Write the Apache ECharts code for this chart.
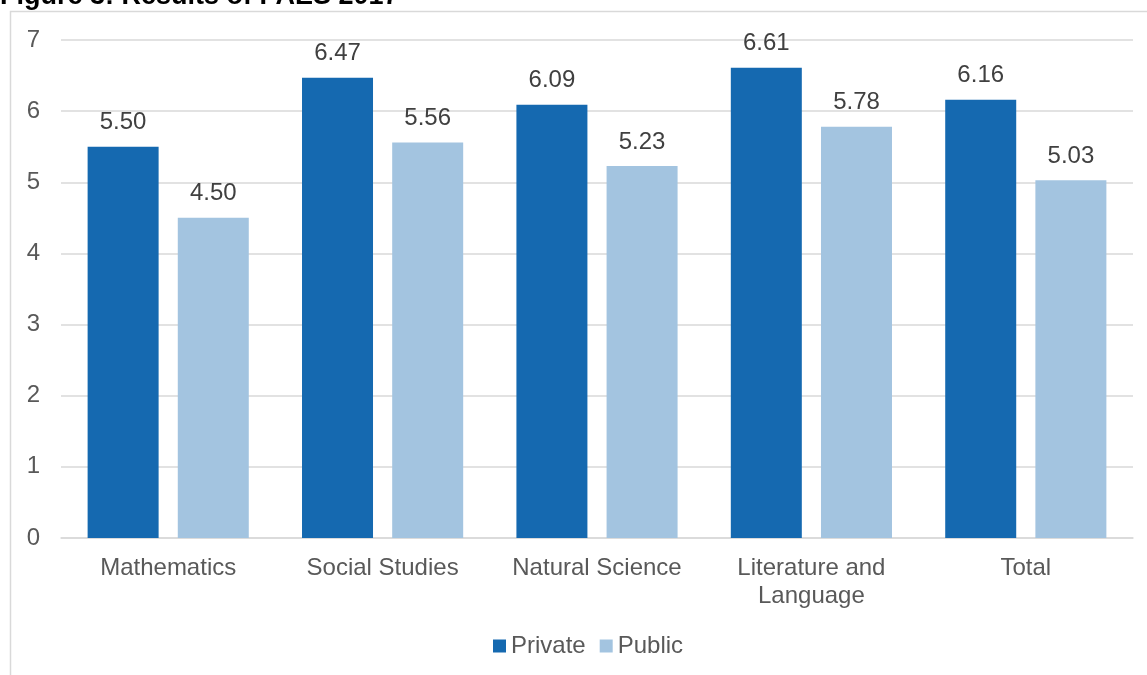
<!DOCTYPE html>
<html><head><meta charset="utf-8">
<script src="https://cdn.jsdelivr.net/npm/echarts@6/dist/echarts.min.js"></script>
<style>html,body{margin:0;padding:0;background:#fff}#c{width:1147px;height:675px}</style>
</head><body><div id="c"></div>
<script>
const categories = ['Mathematics', 'Social Studies', 'Natural Science', 'Literature and\nLanguage', 'Total'];
const privateVals = [5.50, 6.47, 6.09, 6.61, 6.16];
const publicVals = [4.50, 5.56, 5.23, 5.78, 5.03];
const seriesNames = ['Private', 'Public'];
const titleText = 'Figure 3: Results of PAES 2017';

const chart = echarts.init(document.getElementById('c'));
const font = 'Liberation Sans, Arial, sans-serif';
const lbl = {show: true, position: 'top', distance: 12, color: '#404040', fontSize: 24, fontFamily: font, formatter: p => p.value.toFixed(2)};
chart.setOption({
  animation: false,
  graphic: [
    {type: 'rect', shape: {x: 10.5, y: 11.5, width: 1200, height: 700}, style: {fill: 'none', stroke: '#D9D9D9', lineWidth: 1.5}},
    {type: 'text', x: 0, y: -17, style: {text: titleText, fill: '#000', font: 'bold 27px ' + font}}
  ],
  grid: {left: 61, right: 14, top: 40, bottom: 137},
  legend: {bottom: 12, left: 488, itemWidth: 13, itemHeight: 13, itemGap: 14, icon: 'rect',
    textStyle: {color: '#595959', fontSize: 24, fontFamily: font}},
  xAxis: {type: 'category', data: categories,
    axisLine: {lineStyle: {color: '#D9D9D9', width: 1.5}}, axisTick: {show: false},
    axisLabel: {color: '#595959', fontSize: 24, fontFamily: font, margin: 16, lineHeight: 28, interval: 0}},
  yAxis: {type: 'value', min: 0, max: 7, interval: 1,
    axisLine: {show: false}, axisTick: {show: false},
    splitLine: {lineStyle: {color: '#D9D9D9', width: 1.5}},
    axisLabel: {color: '#595959', fontSize: 24, fontFamily: font, margin: 21}},
  series: [
    {name: seriesNames[0], type: 'bar', data: privateVals, barWidth: 71, barGap: '27%', itemStyle: {color: '#1569B0'}, label: lbl},
    {name: seriesNames[1], type: 'bar', data: publicVals, barWidth: 71, itemStyle: {color: '#A3C4E0'}, label: lbl}
  ]
});
</script></body></html>
